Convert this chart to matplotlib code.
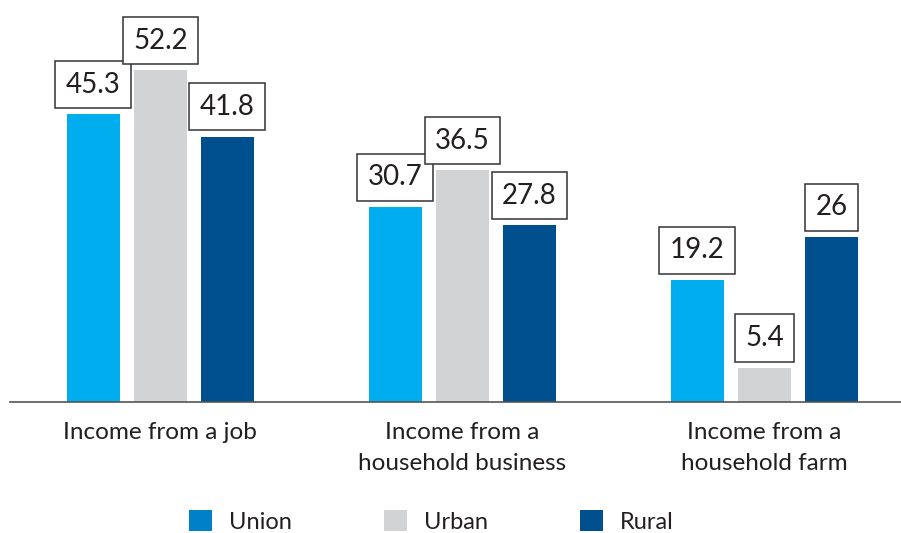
import matplotlib
matplotlib.use("Agg")
import matplotlib.pyplot as plt
from matplotlib.patches import Patch
import numpy as np

categories = ["Income from a job", "Income from a\nhousehold business", "Income from a\nhousehold farm"]
series = ["Union", "Urban", "Rural"]
union = [45.3, 30.7, 19.2]
urban = [52.2, 36.5, 5.4]
rural = [41.8, 27.8, 26]

bar_colors = ["#00AEEF", "#D1D3D4", "#00508F"]
legend_colors = ["#0080C6", "#D1D3D4", "#00508F"]

plt.rcParams['font.family'] = ['Lato', 'DejaVu Sans']

W, H = 901, 533
fig = plt.figure(figsize=(W/100, H/100), dpi=100)
ax = fig.add_axes([10/W, 1-402/H, 891/W, 402/H])

x = np.arange(len(categories))
pitch = 0.222
width = 0.176
for i, (vals, col) in enumerate(zip([union, urban, rural], bar_colors)):
    pos = x + (i-1)*pitch
    ax.bar(pos, vals, width=width, color=col, zorder=2)
    for px_, v in zip(pos, vals):
        lbl = f"{v:g}"
        ax.annotate(lbl, xy=(px_, v), xytext=(0, 12), textcoords='offset points',
                    ha='center', va='bottom', fontsize=20, color='#231F20',
                    bbox=dict(boxstyle='square,pad=0.38', fc='white', ec='#333333', lw=1.1))

ax.set_xlim(-0.498, 2.452)
ax.set_ylim(0, 63.3)
ax.set_yticks([])
ax.set_xticks(x)
ax.set_xticklabels(categories, fontsize=17.5, color='#231F20')
for t in ax.get_xticklabels():
    t.set_linespacing(1.6)
ax.tick_params(axis='x', length=0, pad=14.5)
for s in ['top', 'left', 'right']:
    ax.spines[s].set_visible(False)
ax.spines['bottom'].set_color('#555555')
ax.spines['bottom'].set_linewidth(1.2)
ax.patch.set_alpha(0)

handles = [Patch(facecolor=c, edgecolor='none', label=s) for c, s in zip(legend_colors, series)]
fig.legend(handles=handles, loc='center', bbox_to_anchor=(431/W, 11.5/H), ncol=3,
           frameon=False, fontsize=17, handlelength=0.97, handleheight=0.97,
           handletextpad=0.72, columnspacing=3.9, labelcolor='#231F20')

fig.savefig("out.png", dpi=100)
